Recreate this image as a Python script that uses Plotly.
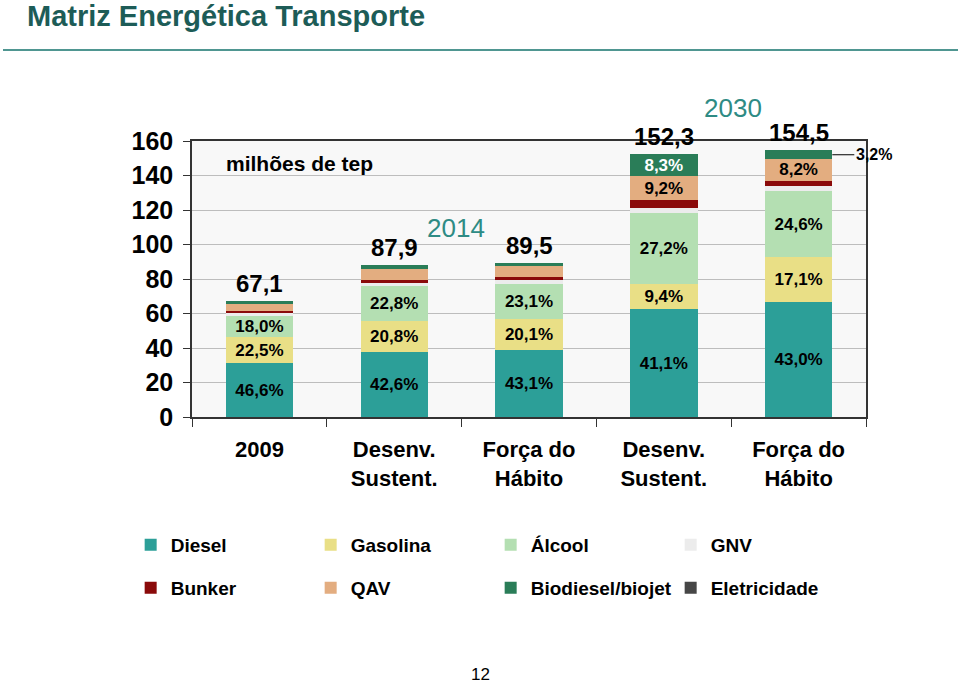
import plotly.graph_objects as go

# ---------------- data ----------------
tick_labels = ["2009", "Desenv.<br>Sustent.", "Força do<br>Hábito", "Desenv.<br>Sustent.", "Força do<br>Hábito"]
totals = [67.1, 87.9, 89.5, 152.3, 154.5]          # milhões de tep

# shares (%) of each source in each scenario
diesel   = [46.6, 42.6, 43.1, 41.1, 43.0]
gasolina = [22.5, 20.8, 20.1, 9.4, 17.1]
alcool   = [18.0, 22.8, 23.1, 27.2, 24.6]
gnv      = [3.4, 2.5, 2.7, 1.8, 2.0]
bunker   = [1.5, 1.5, 1.5, 3.0, 1.9]
qav      = [6.0, 7.3, 7.5, 9.2, 8.2]
biodiesel = [2.0, 2.5, 2.0, 8.3, 3.2]
eletricidade = [0.0, 0.0, 0.0, 0.0, 0.0]

# which shares are printed inside the bars
show_diesel = [1, 1, 1, 1, 1]
show_gasolina = [1, 1, 1, 1, 1]
show_alcool = [1, 1, 1, 1, 1]
show_qav = [0, 0, 0, 1, 1]
show_bio = [0, 0, 0, 1, 0]
none = [0, 0, 0, 0, 0]

series = [
    ("Diesel", diesel, "#2c9f98", show_diesel, "black", "legend"),
    ("Gasolina", gasolina, "#e9df86", show_gasolina, "black", "legend"),
    ("Álcool", alcool, "#b4dfb2", show_alcool, "black", "legend"),
    ("GNV", gnv, "#ececec", none, "black", "legend"),
    ("Bunker", bunker, "#8a0a0a", none, "black", "legend2"),
    ("QAV", qav, "#e3ad80", show_qav, "black", "legend2"),
    ("Biodiesel/biojet", biodiesel, "#2a7d58", show_bio, "white", "legend2"),
    ("Eletricidade", eletricidade, "#464646", none, "black", "legend2"),
]

FONT = "Liberation Sans, Arial, sans-serif"
x = list(range(len(totals)))

def fmt(v, dec=1):
    return f"{v:.{dec}f}".replace(".", ",")

fig = go.Figure()
for name, shares, color, show, tcolor, leg in series:
    vals = [s * t / 100 for s, t in zip(shares, totals)]
    texts = ["<b>" + fmt(s) + "%</b>" if f else "" for s, f in zip(shares, show)]
    fig.add_trace(go.Bar(
        x=x, y=vals, name="<b>" + name + "</b>", marker=dict(color=color, line=dict(width=0)),
        text=texts, textposition="inside", insidetextanchor="middle",
        textangle=0, constraintext="none",
        textfont=dict(family=FONT, size=17, color=tcolor),
        legend=leg, hoverinfo="name+y",
    ))

# totals above the bars
for xi, t in zip(x, totals):
    fig.add_annotation(x=xi, y=t, text="<b>" + fmt(t) + "</b>", showarrow=False,
                       xanchor="center", yanchor="bottom", yshift=2,
                       font=dict(family=FONT, size=24, color="black"))

# 3,2% label outside the last bar
fig.add_annotation(x=4.25, y=totals[4] * (1 - biodiesel[4] / 200), text="<b>" + fmt(biodiesel[4]) + "%</b>",
                   showarrow=True, arrowhead=0, arrowwidth=1, arrowcolor="black",
                   ax=22, ay=0, xanchor="left", yanchor="middle", standoff=0,
                   font=dict(family=FONT, size=16, color="black"))

# group titles and notes
fig.add_annotation(xref="paper", yref="paper", x=0.3917, y=0.6848, text="2014", showarrow=False,
                   xanchor="center", yanchor="middle",
                   font=dict(family=FONT, size=26, color="#2e8b84"))
fig.add_annotation(xref="paper", yref="paper", x=0.8027, y=1.1196, text="2030", showarrow=False,
                   xanchor="center", yanchor="middle",
                   font=dict(family=FONT, size=26, color="#2e8b84"))
fig.add_annotation(xref="paper", yref="paper", x=0.16, y=0.92, text="<b>milhões de tep</b>", showarrow=False,
                   xanchor="center", yanchor="middle",
                   font=dict(family=FONT, size=21, color="black"))
fig.add_annotation(xref="paper", yref="paper", x=-0.2478, y=1.4547, xanchor="left", yanchor="middle",
                   text="<b>Matriz Energética Transporte</b>", showarrow=False,
                   font=dict(family=FONT, size=29, color="#1d5c57"))
fig.add_annotation(xref="paper", yref="paper", x=0.4273, y=-0.9746, text="12", showarrow=False,
                   xanchor="center", yanchor="bottom",
                   font=dict(family=FONT, size=17, color="black"))
fig.add_shape(type="line", xref="paper", yref="paper", x0=-0.2804, x1=1.1365, y0=1.3297, y1=1.3297,
              line=dict(color="#4f9691", width=2))

legend_common = dict(orientation="h", x=-0.091, xanchor="left", yanchor="middle",
                     entrywidth=135, entrywidthmode="pixels", traceorder="normal",
                     font=dict(family=FONT, size=19, color="black"), bgcolor="rgba(0,0,0,0)")

fig.update_layout(
    width=960, height=686,
    margin=dict(l=192, r=94, t=141, b=269),
    paper_bgcolor="white", plot_bgcolor="#f8f8f8",
    barmode="stack", bargap=0.5,
    font=dict(family=FONT, color="black"),
    showlegend=True,
    legend=dict(y=-0.4638, **legend_common),
    legend2=dict(y=-0.6196, **legend_common),
    xaxis=dict(range=[-0.5, 4.5], tickvals=x, ticktext=["<b>" + t + "</b>" for t in tick_labels],
               ticks="", showgrid=False, zeroline=False, showline=True, linecolor="#333333",
               linewidth=1.5, mirror=True, ticklabelstandoff=12,
               tickfont=dict(family=FONT, size=22, color="black"),
               minor=dict(tick0=-0.5, dtick=1, ticks="outside", ticklen=8, tickcolor="#333333",
                          showgrid=False)),
    yaxis=dict(range=[0, 160], dtick=20, ticks="outside", ticklen=7, tickcolor="#333333",
               showgrid=True, gridcolor="#bdbdbd", gridwidth=1, zeroline=False,
               showline=True, linecolor="#333333", linewidth=1.5, mirror=True,
               ticklabelstandoff=5,
               tickfont=dict(family=FONT, size=25, color="black"),
               tickprefix="<b>", ticksuffix="</b>"),
)

fig.write_html("out.html", config={"displayModeBar": False},
               post_script="document.body.style.margin='0';")
